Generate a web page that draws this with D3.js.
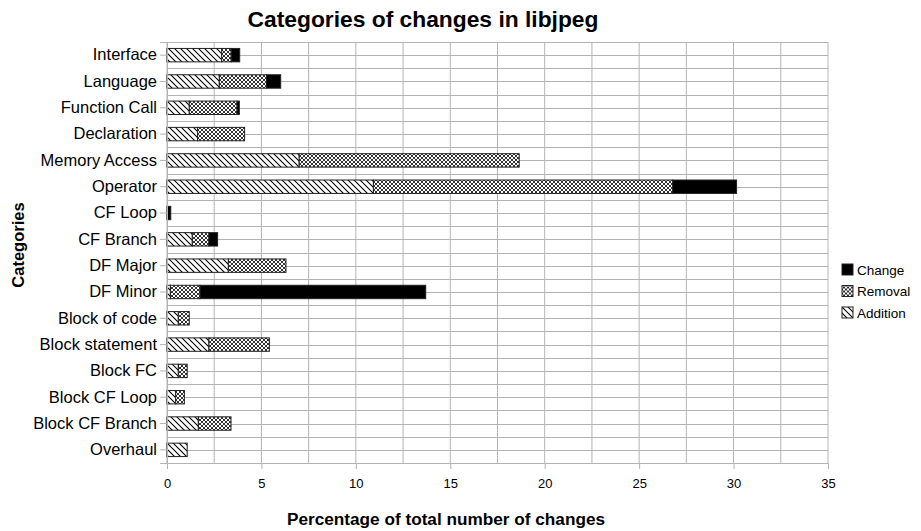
<!DOCTYPE html>
<html>
<head>
<meta charset="utf-8">
<script src="https://cdn.jsdelivr.net/npm/d3@7/dist/d3.min.js"></script>
<style>
  html, body { margin: 0; padding: 0; background: #fff; }
  svg { display: block; font-family: "Liberation Sans", Arial, sans-serif; }
</style>
</head>
<body>
<svg id="chart" width="921" height="531"></svg>
<script>
// Share of all libjpeg changes per category, split by kind of change (percent)
const categories = ["Interface", "Language", "Function Call", "Declaration", "Memory Access",
  "Operator", "CF Loop", "CF Branch", "DF Major", "DF Minor", "Block of code",
  "Block statement", "Block FC", "Block CF Loop", "Block CF Branch", "Overhaul"];
const addition = [2.9, 2.77, 1.18, 1.62, 7.0, 10.93, 0, 1.34, 3.25, 0.18, 0.6, 2.22, 0.6, 0.46, 1.66, 1.07];
const removal  = [0.5, 2.5, 2.53, 2.49, 11.65, 15.85, 0, 0.88, 3.05, 1.57, 0.58, 3.2, 0.47, 0.46, 1.73, 0];
const change   = [0.45, 0.75, 0.12, 0, 0, 3.38, 0.2, 0.46, 0, 11.95, 0, 0, 0, 0, 0, 0];
const seriesKeys = ["addition", "removal", "change"];
const legendOrder = ["change", "removal", "addition"];
const seriesNames = { addition: "Addition", removal: "Removal", change: "Change" };
const xTicks = [0, 5, 10, 15, 20, 25, 30, 35];

const svg = d3.select("#chart");
const plot = { left: 167, right: 828, top: 42, bottom: 463 };

// Fill patterns: diagonal hatch, cross hatch, solid
const defs = svg.append("defs");
const hatch = defs.append("pattern").attr("id", "pat-addition")
  .attr("patternUnits", "userSpaceOnUse").attr("width", 6).attr("height", 6);
hatch.append("rect").attr("width", 6).attr("height", 6).attr("fill", "#fff");
hatch.append("path").attr("d", "M-1,-1 L7,7 M-1,5 L1,7 M5,-1 L7,1")
  .attr("stroke", "#000").attr("stroke-width", 1.1);

const cross = defs.append("pattern").attr("id", "pat-removal")
  .attr("patternUnits", "userSpaceOnUse").attr("width", 4).attr("height", 4);
cross.append("rect").attr("width", 4).attr("height", 4).attr("fill", "#fff");
cross.append("path").attr("d", "M0,0 L4,4 M4,0 L0,4")
  .attr("stroke", "#333").attr("stroke-width", 1);

const fills = { addition: "url(#pat-addition)", removal: "url(#pat-removal)", change: "#000" };

const x = d3.scaleLinear().domain([0, 35]).range([plot.left, plot.right]);
const y = d3.scaleBand().domain(categories).range([plot.top, plot.bottom]).padding(0);
const bw = y.bandwidth();
const barH = bw * 0.51;

// Grid: vertical every 2.5, horizontal at every half band
const gridX = d3.range(0, 35.001, 2.5);
svg.append("g").selectAll("line").data(gridX).join("line")
  .attr("x1", d => x(d)).attr("x2", d => x(d))
  .attr("y1", plot.top).attr("y2", plot.bottom)
  .attr("stroke", "#b3b3b3").attr("stroke-width", 1);
const gridY = [];
categories.forEach(c => { gridY.push(y(c)); gridY.push(y(c) + bw / 2); });
gridY.push(plot.bottom);
svg.append("g").selectAll("line").data(gridY).join("line")
  .attr("x1", plot.left).attr("x2", plot.right)
  .attr("y1", d => Math.round(d) + 0.5).attr("y2", d => Math.round(d) + 0.5)
  .attr("stroke", "#b3b3b3").attr("stroke-width", 1);

// Stacked bars
const rows = categories.map((c, i) => ({ category: c, addition: addition[i], removal: removal[i], change: change[i] }));
const stacked = d3.stack().keys(seriesKeys)(rows);
svg.append("g").selectAll("g").data(stacked).join("g")
  .attr("fill", d => fills[d.key])
  .selectAll("rect").data(d => d.filter(s => s[1] - s[0] > 0)).join("rect")
  .attr("x", d => x(d[0]))
  .attr("width", d => x(d[1]) - x(d[0]))
  .attr("y", d => y(d.data.category) + (bw - barH) / 2)
  .attr("height", barH)
  .attr("stroke", "#222").attr("stroke-width", 1);

// Left axis with outward ticks at category centres
const yAxis = svg.append("g").attr("transform", `translate(${plot.left},0)`)
  .call(d3.axisLeft(y).tickSize(7).tickPadding(3));
yAxis.select(".domain").attr("stroke", "#b3b3b3");
yAxis.selectAll(".tick line").attr("stroke", "#b3b3b3");
yAxis.selectAll(".tick text").attr("font-size", 16.5).attr("fill", "#000")
  .attr("font-family", "Liberation Sans, Arial, sans-serif");

// Bottom axis
const xAxis = svg.append("g").attr("transform", `translate(0,${plot.bottom})`)
  .call(d3.axisBottom(x).tickValues(xTicks).tickSize(6).tickPadding(10));
xAxis.select(".domain").attr("stroke", "#b3b3b3");
xAxis.selectAll(".tick line").attr("stroke", "#b3b3b3");
xAxis.selectAll(".tick text").attr("font-size", 13).attr("fill", "#000")
  .attr("font-family", "Liberation Sans, Arial, sans-serif");

// Titles
svg.append("text").attr("x", 423).attr("y", 27).attr("text-anchor", "middle")
  .attr("font-size", 22.8).attr("font-weight", "bold").text("Categories of changes in libjpeg");
svg.append("text").attr("x", 446).attr("y", 525).attr("text-anchor", "middle")
  .attr("font-size", 17.2).attr("font-weight", "bold").text("Percentage of total number of changes");
svg.append("text").attr("transform", "translate(24,245) rotate(-90)").attr("text-anchor", "middle")
  .attr("font-size", 16.5).attr("font-weight", "bold").text("Categories");

// Legend
const legend = svg.append("g").attr("transform", "translate(842,264)");
const li = legend.selectAll("g").data(legendOrder).join("g")
  .attr("transform", (d, i) => `translate(0,${i * 21.5})`);
li.append("rect").attr("width", 11).attr("height", 11)
  .attr("fill", d => fills[d]).attr("stroke", "#222").attr("stroke-width", 1);
li.append("text").attr("x", 15).attr("y", 10.5).attr("font-size", 13.5)
  .text(d => seriesNames[d]);
</script>
</body>
</html>
